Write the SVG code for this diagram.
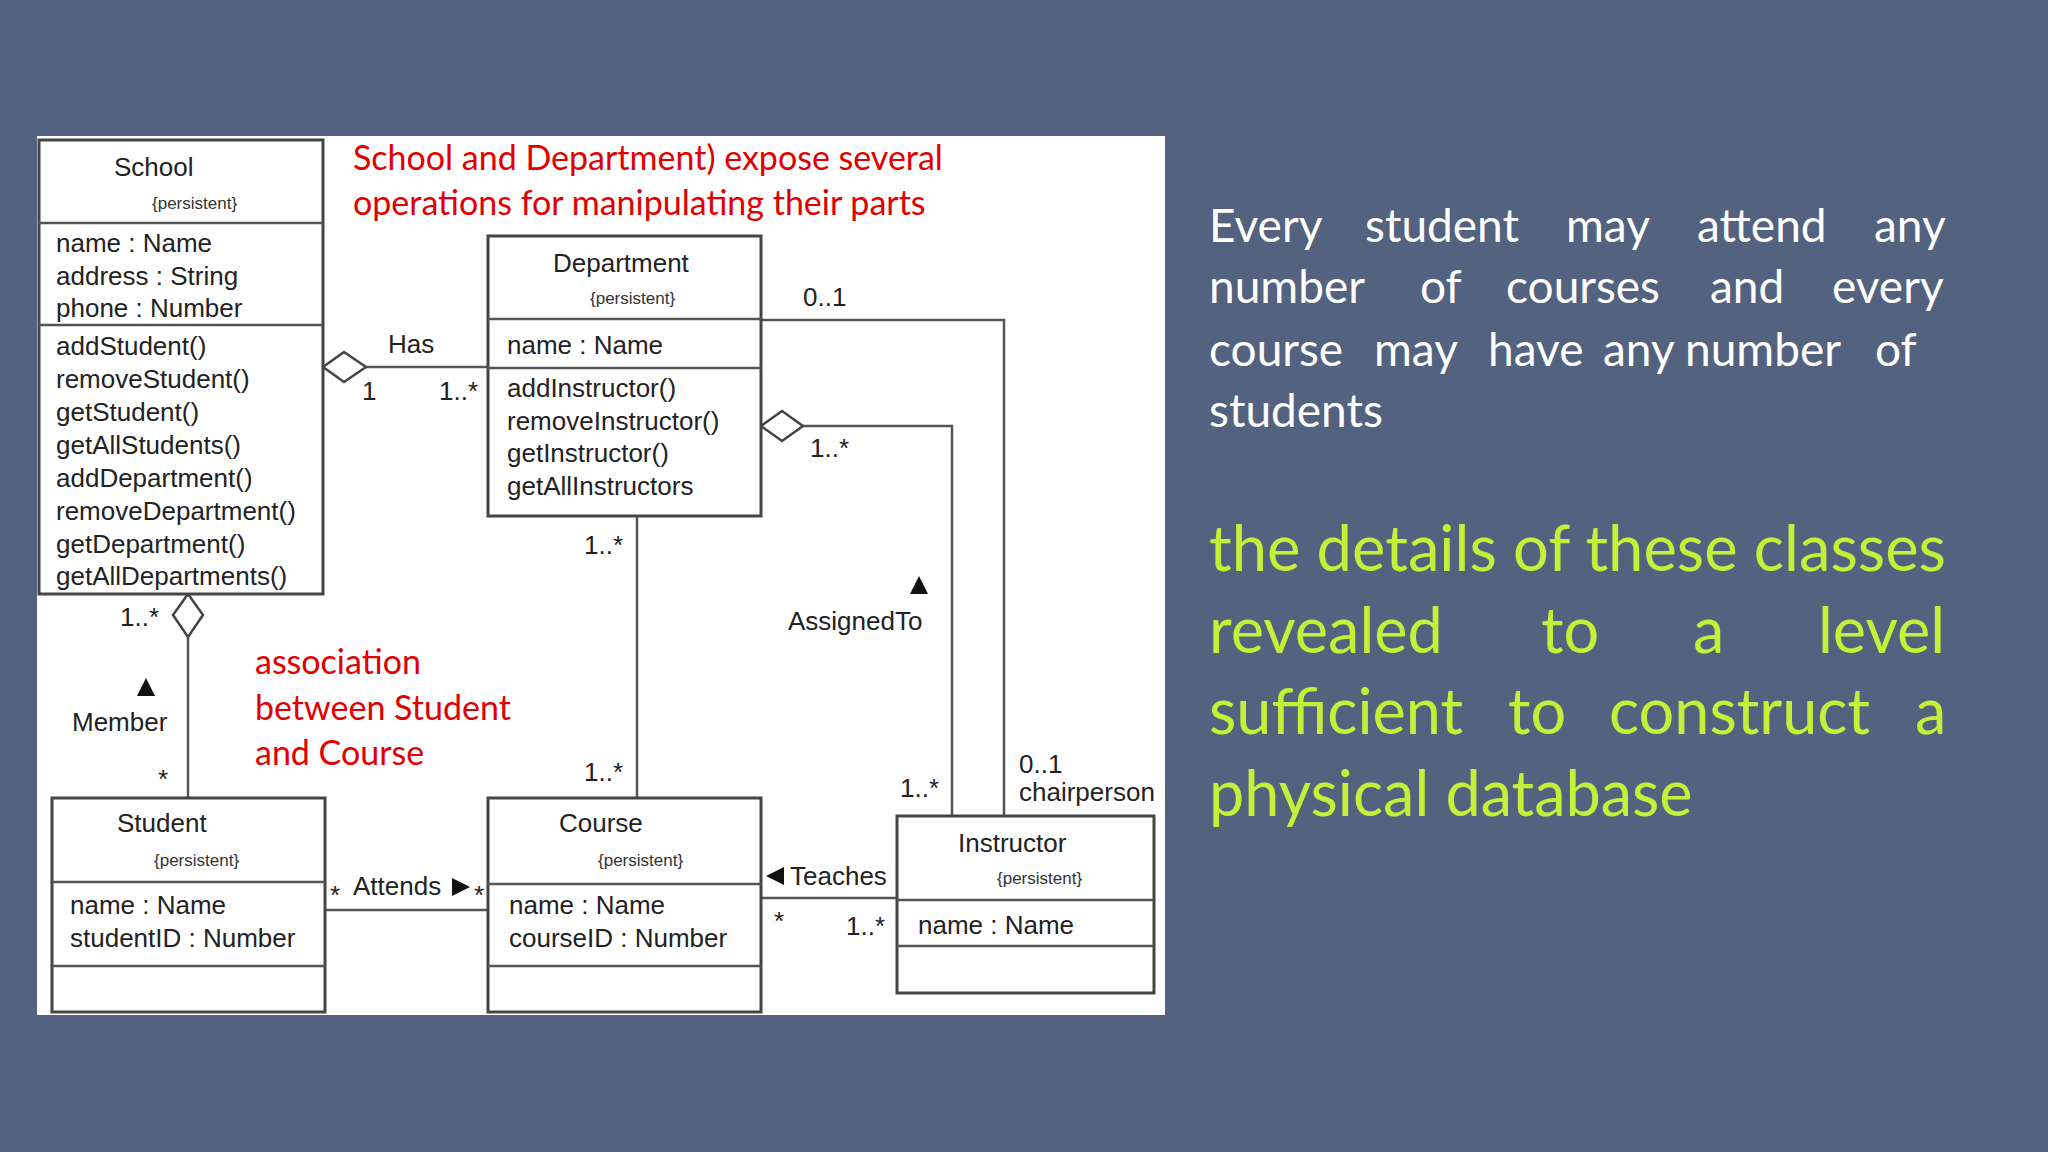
<svg xmlns="http://www.w3.org/2000/svg" width="2048" height="1152" viewBox="0 0 2048 1152">
<defs><style>
.box{fill:#fff;stroke:#444;stroke-width:3}
.ln{fill:none;stroke:#555;stroke-width:2.5}
.t{font-family:"Liberation Sans",Arial,sans-serif;font-size:26px;fill:#222}
.ti{font-family:"Liberation Sans",Arial,sans-serif;font-size:26px;fill:#222}
.p{font-family:"Liberation Sans",Arial,sans-serif;font-size:17px;fill:#333}
.r{font-family:Lato,"Open Sans",sans-serif;font-size:34px;fill:#e00000}
.w{font-family:Lato,"Open Sans",sans-serif;font-size:46px;fill:#fff}
.g{font-family:Lato,"Open Sans",sans-serif;font-size:63px;fill:#c6ef3a}
</style></defs>
<rect width="2048" height="1152" fill="#53627f"/>
<rect x="37" y="136" width="1128" height="879" fill="#fff"/>
<g id="connectors">
<polyline class="ln" points="366,367 488,367"/>
<polyline class="ln" points="761,320 1004,320 1004,816"/>
<polyline class="ln" points="803,426 952,426 952,816"/>
<line class="ln" x1="637" y1="516" x2="637" y2="798"/>
<line class="ln" x1="188" y1="637" x2="188" y2="798"/>
<line class="ln" x1="325" y1="910" x2="488" y2="910"/>
<line class="ln" x1="761" y1="898" x2="897" y2="898"/>
<polygon points="323,367 344,352 366,367 344,382" fill="#fff" stroke="#444" stroke-width="2.5"/>
<polygon points="761,426 782,411 803,426 782,441" fill="#fff" stroke="#444" stroke-width="2.5"/>
<polygon points="188,594 203,615 188,637 173,615" fill="#fff" stroke="#444" stroke-width="2.5"/>
<polygon points="910,594 928,594 919,576" fill="#111"/>
<polygon points="137,696 155,696 146,678" fill="#111"/>
<polygon points="452,878 452,896 470,887" fill="#111"/>
<polygon points="784,867 784,885 766,876" fill="#111"/>
<g class="t">
<text x="388" y="353">Has</text><text x="362" y="400">1</text><text x="439" y="400">1..*</text>
<text x="803" y="306">0..1</text><text x="810" y="457">1..*</text><text x="584" y="554">1..*</text>
<text x="788" y="630">AssignedTo</text><text x="120" y="626">1..*</text><text x="72" y="731">Member</text>
<text x="158" y="788">*</text><text x="584" y="781">1..*</text><text x="900" y="797">1..*</text>
<text x="1019" y="773">0..1</text><text x="1019" y="801">chairperson</text>
<text x="330" y="904">*</text><text x="353" y="895">Attends</text><text x="474" y="904">*</text>
<text x="790" y="885">Teaches</text><text x="774" y="930">*</text><text x="846" y="935">1..*</text>
</g>
</g>
<g id="school">
<rect class="box" x="39" y="140" width="284" height="454"/>
<line class="ln" x1="39" y1="223" x2="323" y2="223"/><line class="ln" x1="39" y1="325" x2="323" y2="325"/>
<text class="ti" x="114" y="176">School</text><text class="p" x="152" y="209">{persistent}</text>
<g class="t"><text x="56" y="252">name : Name</text><text x="56" y="285">address : String</text><text x="56" y="317">phone : Number</text>
<text x="56" y="355">addStudent()</text><text x="56" y="388">removeStudent()</text><text x="56" y="421">getStudent()</text><text x="56" y="454">getAllStudents()</text><text x="56" y="487">addDepartment()</text><text x="56" y="520">removeDepartment()</text><text x="56" y="553">getDepartment()</text><text x="56" y="585">getAllDepartments()</text></g>
</g>
<g id="department">
<rect class="box" x="488" y="236" width="273" height="280"/>
<line class="ln" x1="488" y1="319" x2="761" y2="319"/><line class="ln" x1="488" y1="368" x2="761" y2="368"/>
<text class="ti" x="553" y="272">Department</text><text class="p" x="590" y="304">{persistent}</text>
<g class="t"><text x="507" y="354">name : Name</text><text x="507" y="397">addInstructor()</text><text x="507" y="430">removeInstructor()</text><text x="507" y="462">getInstructor()</text><text x="507" y="495">getAllInstructors</text></g>
</g>
<g id="student">
<rect class="box" x="52" y="798" width="273" height="214"/>
<line class="ln" x1="52" y1="882" x2="325" y2="882"/><line class="ln" x1="52" y1="966" x2="325" y2="966"/>
<text class="ti" x="117" y="832">Student</text><text class="p" x="154" y="866">{persistent}</text>
<g class="t"><text x="70" y="914">name : Name</text><text x="70" y="947">studentID : Number</text></g>
</g>
<g id="course">
<rect class="box" x="488" y="798" width="273" height="214"/>
<line class="ln" x1="488" y1="884" x2="761" y2="884"/><line class="ln" x1="488" y1="966" x2="761" y2="966"/>
<text class="ti" x="559" y="832">Course</text><text class="p" x="598" y="866">{persistent}</text>
<g class="t"><text x="509" y="914">name : Name</text><text x="509" y="947">courseID : Number</text></g>
</g>
<g id="instructor">
<rect class="box" x="897" y="816" width="257" height="177"/>
<line class="ln" x1="897" y1="900" x2="1154" y2="900"/><line class="ln" x1="897" y1="946" x2="1154" y2="946"/>
<text class="ti" x="958" y="852">Instructor</text><text class="p" x="997" y="884">{persistent}</text>
<text class="t" x="918" y="934">name : Name</text>
</g>
<g id="notes">
<text class="r" x="353" y="170">School and Department) expose several</text>
<text class="r" x="353" y="215">operations for manipulating their parts</text>
<text class="r" x="255" y="674">association</text><text class="r" x="255" y="720">between Student</text><text class="r" x="255" y="765">and Course</text>
<g class="w">
<text x="1209" y="242">Every</text><text x="1365" y="242">student</text><text x="1566" y="242">may</text><text x="1697" y="242">attend</text><text x="1874" y="242">any</text>
<text x="1209" y="303">number</text><text x="1420" y="303">of</text><text x="1506" y="303">courses</text><text x="1710" y="303">and</text><text x="1832" y="303">every</text>
<text x="1209" y="366">course</text><text x="1374" y="366">may</text><text x="1488" y="366">have</text><text x="1603" y="366">any</text><text x="1685" y="366">number</text><text x="1875" y="366">of</text>
<text x="1209" y="427">students</text>
</g>
<g class="g">
<text x="1209" y="571" textLength="737" lengthAdjust="spacingAndGlyphs">the details of these classes</text>
<text x="1209" y="653">revealed</text><text x="1541" y="653">to</text><text x="1693" y="653">a</text><text x="1818" y="653">level</text>
<text x="1209" y="734">sufficient</text><text x="1508" y="734">to</text><text x="1609" y="734">construct</text><text x="1915" y="734">a</text>
<text x="1209" y="816">physical database</text>
</g>
</g>
</svg>
